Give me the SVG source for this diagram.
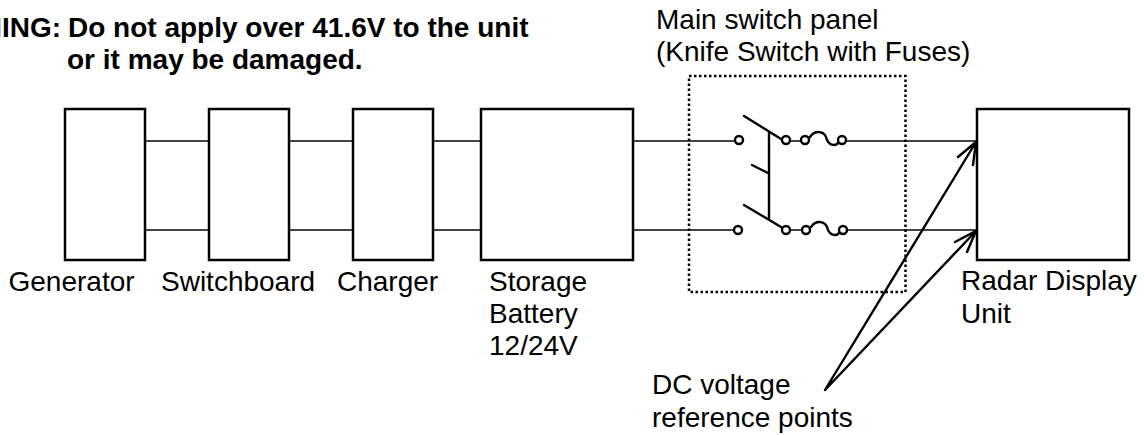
<svg xmlns="http://www.w3.org/2000/svg" width="1144" height="435" viewBox="0 0 1144 435">
<style>
text{font-family:"Liberation Sans",Arial,sans-serif;font-size:28px;fill:#000}
.b{font-weight:bold}
.box{fill:#fff;stroke:#000;stroke-width:2.5}
.w{fill:none;stroke:#444;stroke-width:2}
.k{fill:none;stroke:#000;stroke-width:2.4;stroke-linecap:round}
.c{fill:#fff;stroke:#000;stroke-width:2.4}
</style>
<rect width="1144" height="435" fill="#fff"/>
<g id="connectors">
<path class="w" d="M145 141H209M145 230H209M289 141H353M289 230H353M433 141H481M433 230H481M633 141H734M633 230H734M846 141H977M846 230H977M789 141H802M789 230H802"/>
<path class="k" d="M825 390L976 142M958 157L976 142L973 165M825 390L976 231M955 242L976 231L967 252"/>
</g>
<g id="warning">
<text class="b" x="61" y="37" text-anchor="end">WARNING:</text>
<text class="b" x="68" y="37">Do not apply over 41.6V to the unit</text>
<text class="b" x="67" y="69">or it may be damaged.</text>
</g>
<g id="generator"><rect class="box" x="65" y="109" width="80" height="151"/><text x="8.500" y="291">Generator</text></g>
<g id="switchboard"><rect class="box" x="209" y="109" width="80" height="151"/><text x="161" y="291">Switchboard</text></g>
<g id="charger"><rect class="box" x="353" y="109" width="80" height="151"/><text x="337" y="291">Charger</text></g>
<g id="battery"><rect class="box" x="481" y="109" width="152" height="151"/><text x="489" y="291">Storage</text><text x="489" y="323">Battery</text><text x="489" y="355">12/24V</text></g>
<g id="radar"><rect class="box" x="977" y="109" width="152" height="151"/><text x="961" y="290">Radar Display</text><text x="961" y="323">Unit</text></g>
<g id="switch-panel">
<rect x="689" y="76" width="216.500" height="216" fill="none" stroke="#000" stroke-width="2.5" stroke-dasharray="2.5 2.5"/>
<text x="656" y="28.500">Main switch panel</text>
<text x="656" y="60.500">(Knife Switch with Fuses)</text>
<path class="k" d="M744 116L781 139M744 205L781 227M769 132V219M752 165L768 173M810 137C815 130 825 130 827 140C830 146 836 146 838 143M811 227C816 220 826 220 828 230C831 236 837 236 839 233"/>
<circle class="c" cx="739" cy="140" r="4"/><circle class="c" cx="786" cy="140" r="4"/><circle class="c" cx="805" cy="140" r="4"/><circle class="c" cx="842" cy="140" r="4"/>
<circle class="c" cx="738" cy="230" r="4"/><circle class="c" cx="786" cy="230" r="4"/><circle class="c" cx="806" cy="230" r="4"/><circle class="c" cx="843" cy="230" r="4"/>
</g>
<g id="reference-label"><text x="652" y="394">DC voltage</text><text x="652" y="427">reference points</text></g>
</svg>
